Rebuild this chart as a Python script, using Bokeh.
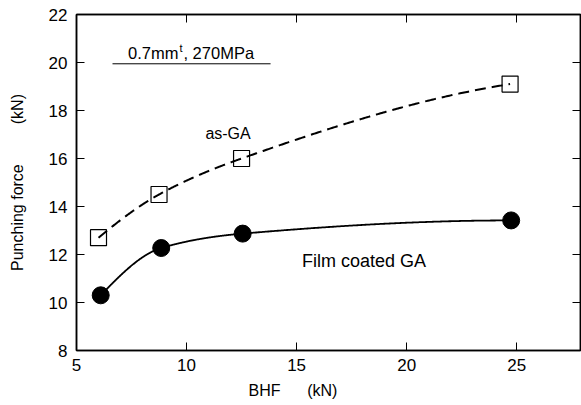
import numpy as np
from bokeh.plotting import figure
from bokeh.models import (LinearAxis, SingleIntervalTicker, Label, Arrow, Title, Range1d,
                          CustomJSTickFormatter)
from bokeh.embed import file_html
from bokeh.resources import INLINE

# ---- data ----
bhf_asga = [6.0, 8.75, 12.5, 24.7]
force_asga = [12.7, 14.5, 16.0, 19.1]
bhf_film = [6.1, 8.85, 12.55, 24.75]
force_film = [10.3, 12.27, 12.87, 13.42]
x_ticks_interval = 5
y_ticks_interval = 2

FONT = "Liberation Sans"
NB = "\u00a0"


def pchip(x, y, n=200):
    x = np.asarray(x, float)
    y = np.asarray(y, float)
    h = np.diff(x)
    d = np.diff(y) / h
    m = np.zeros_like(x)
    for k in range(1, len(x) - 1):
        if d[k - 1] * d[k] > 0:
            w1 = 2 * h[k] + h[k - 1]
            w2 = h[k] + 2 * h[k - 1]
            m[k] = (w1 + w2) / (w1 / d[k - 1] + w2 / d[k])
    m[0] = ((2 * h[0] + h[1]) * d[0] - h[0] * d[1]) / (h[0] + h[1])
    if np.sign(m[0]) != np.sign(d[0]):
        m[0] = 0
    m[-1] = ((2 * h[-1] + h[-2]) * d[-1] - h[-1] * d[-2]) / (h[-1] + h[-2])
    if np.sign(m[-1]) != np.sign(d[-1]):
        m[-1] = 0
    xs, ys = [], []
    for k in range(len(x) - 1):
        t = np.linspace(0, 1, n)
        h00 = 2 * t**3 - 3 * t**2 + 1
        h10 = t**3 - 2 * t**2 + t
        h01 = -2 * t**3 + 3 * t**2
        h11 = t**3 - t**2
        xs.extend(x[k] + t * h[k])
        ys.extend(h00 * y[k] + h10 * h[k] * m[k] + h01 * y[k + 1] + h11 * h[k] * m[k + 1])
    return xs, ys


p = figure(width=581, height=405, output_backend="svg", toolbar_location=None,
           x_range=Range1d(5, 27.9), y_range=Range1d(8, 22),
           min_border_left=76, min_border_top=14, min_border_bottom=55, min_border_right=1)
p.grid.visible = False
p.outline_line_color = "black"
p.outline_line_width = 1.5
p.background_fill_color = "white"
p.border_fill_color = "white"


def style_axis(ax, labels=True):
    ax.major_tick_in = 8
    ax.major_tick_out = 0
    ax.minor_tick_in = 0
    ax.minor_tick_out = 0
    ax.axis_line_width = 1.5
    ax.axis_line_color = "black"
    ax.major_tick_line_color = "black"
    ax.major_tick_line_width = 1
    ax.major_label_text_font = FONT
    ax.major_label_text_font_size = "17px"
    ax.major_label_text_color = "black"
    if not labels:
        ax.formatter = CustomJSTickFormatter(code="return ''")
        ax.major_label_standoff = 0


p.xaxis.ticker = SingleIntervalTicker(interval=x_ticks_interval)
p.yaxis.ticker = SingleIntervalTicker(interval=y_ticks_interval)
style_axis(p.xaxis[0])
style_axis(p.yaxis[0])
p.xaxis.major_label_standoff = 8
p.yaxis.major_label_standoff = 9

p.yaxis.axis_label = "Punching force" + NB * 9 + "(kN)"
p.yaxis.axis_label_text_font = FONT
p.yaxis.axis_label_text_font_size = "16px"
p.yaxis.axis_label_text_font_style = "normal"
p.yaxis.axis_label_text_color = "black"
p.yaxis.axis_label_standoff = 20

top = LinearAxis(ticker=SingleIntervalTicker(interval=x_ticks_interval))
style_axis(top, labels=False)
p.add_layout(top, "above")
right = LinearAxis(ticker=SingleIntervalTicker(interval=y_ticks_interval))
style_axis(right, labels=False)
p.add_layout(right, "right")

xlab = Title(text="BHF" + NB * 6 + "(kN)", align="left", offset=172,
             text_font=FONT, text_font_size="16px", text_font_style="normal",
             text_color="black", standoff=13)
p.add_layout(xlab, "below")

# curves
xs, ys = pchip(bhf_asga, force_asga)
p.line(xs, ys, line_color="black", line_width=2, line_dash="11 6")
xs2, ys2 = pchip(bhf_film, force_film)
p.line(xs2, ys2, line_color="black", line_width=1.8)

p.scatter(bhf_asga, force_asga, marker="square", size=16, fill_color=None,
          line_color="black", line_width=1.2)
p.scatter(bhf_film, force_film, marker="circle", size=17, fill_color="black",
          line_color="black")

# annotations
p.add_layout(Label(x=7.341, y=20.396, text="0.7mm", text_font=FONT, text_font_size="16.5px",
                   text_color="black", text_baseline="middle"))
p.add_layout(Label(x=9.677, y=20.604, text="t", text_font=FONT, text_font_size="11px",
                   text_color="black", text_baseline="middle"))
p.add_layout(Label(x=9.859, y=20.396, text=", 270MPa", text_font=FONT, text_font_size="16.5px",
                   text_color="black", text_baseline="middle"))
p.add_layout(Arrow(end=None, x_start=6.636, y_start=19.946, x_end=13.818, y_end=19.946,
                   line_color="black", line_width=1))
p.add_layout(Label(x=11.886, y=17.05, text="as-GA", text_font=FONT, text_font_size="16px",
                   text_color="black", text_align="center", text_baseline="middle"))
p.add_layout(Label(x=18.06, y=11.75, text="Film coated GA", text_font=FONT, text_font_size="18px",
                   text_color="black", text_align="center", text_baseline="middle"))

open("out.html", "w").write(file_html(p, INLINE))
